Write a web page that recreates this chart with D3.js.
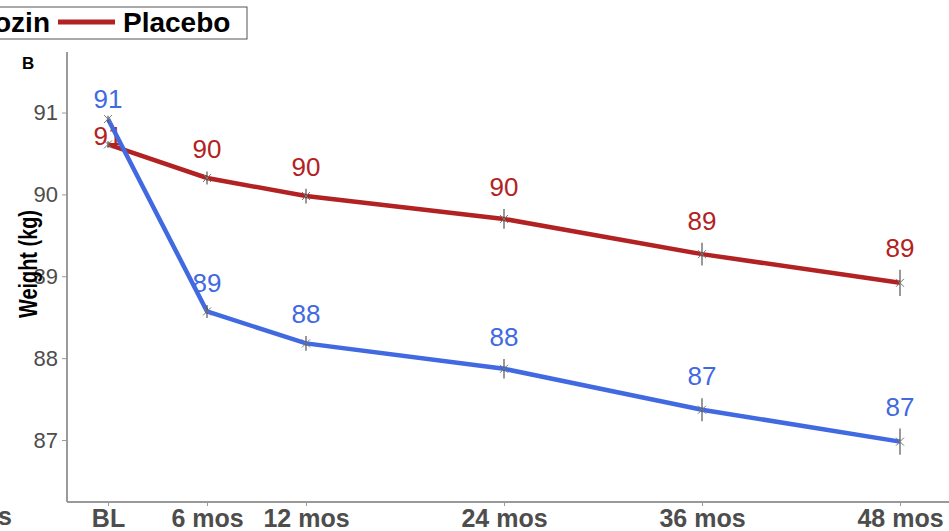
<!DOCTYPE html>
<html lang="en">
<head>
<meta charset="UTF-8">
<title>Weight over time</title>
<script src="https://d3js.org/d3.v7.min.js"></script>
<style>
  body { margin: 0; background: #fff; }
  svg { display: block; }
</style>
</head>
<body>
<div id="chart"></div>
<script>
// data
const months = [0, 6, 12, 24, 36, 48];
const tickLabels = ["BL", "6 mos", "12 mos", "24 mos", "36 mos", "48 mos"];
const drugName = "Dapagliflozin";
const drugWeight = [90.92, 88.57, 88.18, 87.87, 87.37, 86.98];
const drugErr = [0.04, 0.08, 0.09, 0.12, 0.14, 0.16];
const drugLabelNudge = [-0.06, 0, 0, 0, 0, 0];
const placeboWeight = [90.61, 90.2, 89.98, 89.7, 89.27, 88.92];
const placeboErr = [0.04, 0.08, 0.09, 0.12, 0.14, 0.16];
const placeboLabelNudge = [-0.2, 0, 0, 0, 0, 0];
const yTicks = [87, 88, 89, 90, 91];

const width = 949, height = 531;
const blue = "#4169e1", red = "#b22222";

const svg = d3.select("#chart").append("svg")
    .attr("width", width)
    .attr("height", height)
    .attr("font-family", "Liberation Sans, Arial, sans-serif");

const x = d3.scaleLinear().domain([0, 48]).range([108, 900]);
const y = d3.scaleLinear().domain([87, 91]).range([440, 112.5]);

// axes
const xAxis = svg.append("g")
    .attr("transform", "translate(0,502)")
    .call(d3.axisBottom(x).tickValues(months).tickFormat((d, i) => tickLabels[i]).tickSize(4).tickPadding(3));
xAxis.select(".domain").attr("d", "M67,0H949").attr("stroke", "#9a9a9a").attr("stroke-width", 2);
xAxis.selectAll(".tick line").attr("stroke", "#9a9a9a");
xAxis.selectAll(".tick text")
    .attr("fill", "#4d4d4d")
    .attr("font-weight", "bold")
    .attr("font-size", 25);

const yAxis = svg.append("g")
    .attr("transform", "translate(67,0)")
    .call(d3.axisLeft(y).tickValues(yTicks).tickFormat(d3.format("d")).tickSize(5).tickPadding(4));
yAxis.select(".domain").attr("d", "M0,52V502").attr("stroke", "#9a9a9a").attr("stroke-width", 2);
yAxis.selectAll(".tick line").attr("stroke", "#9a9a9a");
yAxis.selectAll(".tick text")
    .attr("fill", "#4d4d4d")
    .attr("font-size", 22);

// label from neighbouring panel, cut off at the edge
svg.append("text")
    .attr("x", 12).attr("y", 525)
    .attr("text-anchor", "end")
    .attr("fill", "#4d4d4d")
    .attr("font-weight", "bold")
    .attr("font-size", 25)
    .text("48 mos");

svg.append("text")
    .attr("transform", "translate(37,264) rotate(-90)")
    .attr("text-anchor", "middle")
    .attr("font-weight", "bold")
    .attr("font-size", 25)
    .attr("textLength", 108)
    .attr("lengthAdjust", "spacingAndGlyphs")
    .text("Weight (kg)");

svg.append("text")
    .attr("x", 22).attr("y", 69)
    .attr("font-weight", "bold")
    .attr("font-size", 17)
    .text("B");

const line = d3.line().x(d => x(d.m)).y(d => y(d.v));

function drawSeries(vals, errs, nudges, color) {
    const pts = months.map((m, i) => ({ m, v: vals[i], e: errs[i], n: nudges[i] }));
    svg.append("path")
        .datum(pts)
        .attr("d", line)
        .attr("fill", "none")
        .attr("stroke", color)
        .attr("stroke-width", 4.5);
    const g = svg.append("g");
    // error bars
    g.selectAll(".err").data(pts).join("line")
        .attr("x1", d => x(d.m)).attr("x2", d => x(d.m))
        .attr("y1", d => y(d.v - d.e)).attr("y2", d => y(d.v + d.e))
        .attr("stroke", "#555").attr("stroke-width", 1.2);
    // x markers
    g.selectAll(".mk").data(pts).join("path")
        .attr("d", d => {
            const cx = x(d.m), cy = y(d.v), r = 4;
            return `M${cx - r},${cy - r}L${cx + r},${cy + r}M${cx - r},${cy + r}L${cx + r},${cy - r}`;
        })
        .attr("stroke", "#777").attr("stroke-width", 1);
    // value labels sit above the error bar
    g.selectAll(".lab").data(pts).join("text")
        .attr("x", d => x(d.m))
        .attr("y", d => y(d.v + d.e + d.n) - 13)
        .attr("text-anchor", "middle")
        .attr("fill", color)
        .attr("font-size", 26)
        .text(d => Math.round(d.v));
}

drawSeries(placeboWeight, placeboErr, placeboLabelNudge, red);
drawSeries(drugWeight, drugErr, drugLabelNudge, blue);

// legend, partly cut off at the left edge
const legend = svg.append("g");
legend.append("rect")
    .attr("x", -230).attr("y", 7)
    .attr("width", 477).attr("height", 32)
    .attr("fill", "#fff").attr("stroke", "#555").attr("stroke-width", 1);
legend.append("line")
    .attr("x1", -228).attr("x2", -171).attr("y1", 22).attr("y2", 22)
    .attr("stroke", blue).attr("stroke-width", 5);
legend.append("text")
    .attr("x", 50).attr("y", 32)
    .attr("text-anchor", "end")
    .attr("font-weight", "bold").attr("font-size", 28)
    .text(drugName);
legend.append("line")
    .attr("x1", 58).attr("x2", 115).attr("y1", 22).attr("y2", 22)
    .attr("stroke", red).attr("stroke-width", 5);
legend.append("text")
    .attr("x", 123).attr("y", 32)
    .attr("font-weight", "bold").attr("font-size", 28)
    .text("Placebo");
</script>
</body>
</html>
